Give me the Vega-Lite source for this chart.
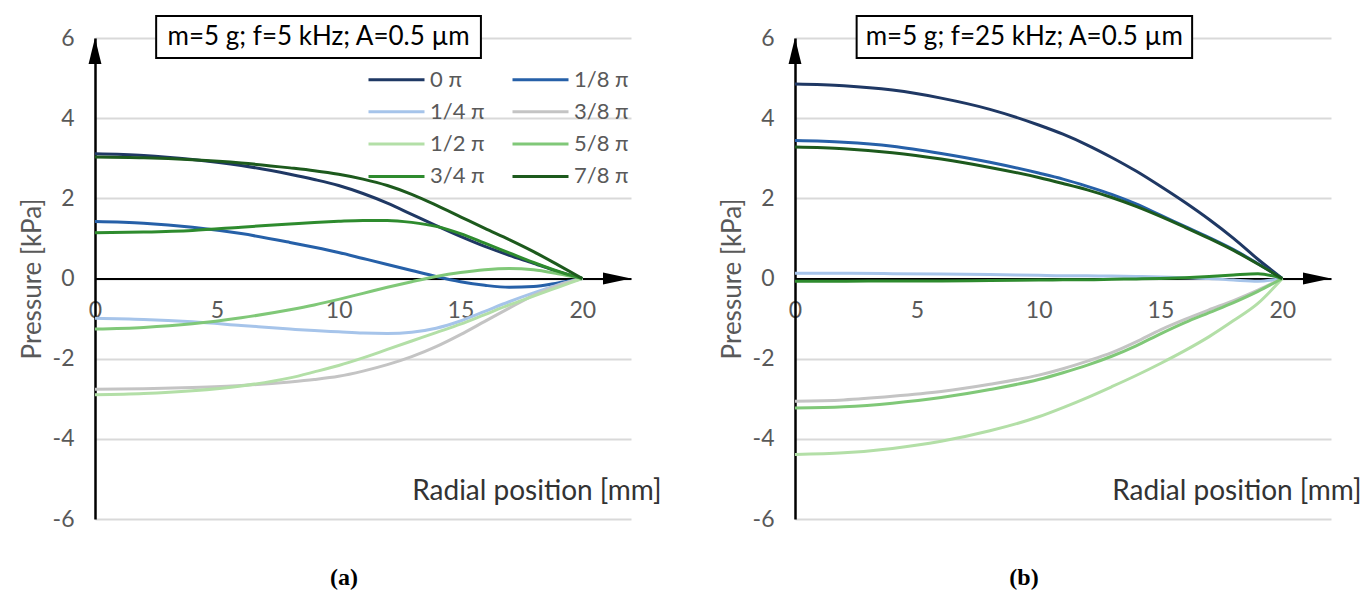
{
  "$schema": "https://vega.github.io/schema/vega-lite/v6.json",
  "background": "white",
  "padding": {"left": 19, "top": 14, "right": 0, "bottom": 0},
  "spacing": 164,
  "bounds": "flush",
  "config": {
    "font": "Lato",
    "view": {"stroke": null},
    "axisX": {"domainColor": "black", "domainWidth": 2, "ticks": false, "grid": false, "labelPadding": 21, "labelColor": "#595959", "labelFontSize": 23, "labelFont": "Lato", "titleColor": "#333333", "titleFontSize": 28, "titleFontWeight": "normal", "titleFont": "Lato", "labelFlush": false},
    "axisY": {"grid": true, "gridColor": "#d9d9d9", "gridWidth": 2, "domainColor": "black", "domainWidth": 2.5, "ticks": false, "labelPadding": 21, "labelColor": "#595959", "labelFontSize": 23, "labelFont": "Lato", "titleColor": "#595959", "titleFontSize": 26, "titleFontWeight": "normal", "titleFont": "Lato", "titlePadding": 7},
    "legend": {"orient": "none", "direction": "horizontal", "columns": 2, "symbolType": "M-2,0L2,0", "symbolSize": 784, "symbolStrokeWidth": 3, "labelFontSize": 22, "labelFont": "Lato", "labelColor": "#595959", "labelOffset": 18, "columnPadding": 21, "rowPadding": 5.3, "padding": 0}
  },
  "datasets": {
    "a": [
      {"r": 0, "0 π": 3.11, "1/8 π": 1.42, "1/4 π": -0.99, "3/8 π": -2.76, "1/2 π": -2.9, "5/8 π": -1.26, "3/4 π": 1.14, "7/8 π": 3.03},
      {"r": 2, "0 π": 3.07, "1/8 π": 1.38, "1/4 π": -1.02, "3/8 π": -2.75, "1/2 π": -2.87, "5/8 π": -1.22, "3/4 π": 1.16, "7/8 π": 3.01},
      {"r": 4, "0 π": 2.97, "1/8 π": 1.28, "1/4 π": -1.08, "3/8 π": -2.72, "1/2 π": -2.8, "5/8 π": -1.13, "3/4 π": 1.2, "7/8 π": 2.96},
      {"r": 6, "0 π": 2.82, "1/8 π": 1.12, "1/4 π": -1.17, "3/8 π": -2.67, "1/2 π": -2.68, "5/8 π": -0.98, "3/4 π": 1.28, "7/8 π": 2.88},
      {"r": 8, "0 π": 2.6, "1/8 π": 0.9, "1/4 π": -1.26, "3/8 π": -2.58, "1/2 π": -2.48, "5/8 π": -0.78, "3/4 π": 1.36, "7/8 π": 2.76},
      {"r": 9, "0 π": 2.47, "1/8 π": 0.78, "1/4 π": -1.3, "3/8 π": -2.52, "1/2 π": -2.33, "5/8 π": -0.66, "3/4 π": 1.4, "7/8 π": 2.69},
      {"r": 10, "0 π": 2.32, "1/8 π": 0.65, "1/4 π": -1.33, "3/8 π": -2.44, "1/2 π": -2.17, "5/8 π": -0.52, "3/4 π": 1.43, "7/8 π": 2.6},
      {"r": 11, "0 π": 2.12, "1/8 π": 0.5, "1/4 π": -1.36, "3/8 π": -2.31, "1/2 π": -1.98, "5/8 π": -0.37, "3/4 π": 1.45, "7/8 π": 2.48},
      {"r": 12, "0 π": 1.88, "1/8 π": 0.35, "1/4 π": -1.37, "3/8 π": -2.15, "1/2 π": -1.77, "5/8 π": -0.22, "3/4 π": 1.45, "7/8 π": 2.32},
      {"r": 13, "0 π": 1.6, "1/8 π": 0.2, "1/4 π": -1.34, "3/8 π": -1.95, "1/2 π": -1.56, "5/8 π": -0.08, "3/4 π": 1.4, "7/8 π": 2.1},
      {"r": 14, "0 π": 1.32, "1/8 π": 0.05, "1/4 π": -1.24, "3/8 π": -1.7, "1/2 π": -1.35, "5/8 π": 0.05, "3/4 π": 1.3, "7/8 π": 1.83},
      {"r": 15, "0 π": 1.05, "1/8 π": -0.08, "1/4 π": -1.06, "3/8 π": -1.4, "1/2 π": -1.14, "5/8 π": 0.15, "3/4 π": 1.12, "7/8 π": 1.54},
      {"r": 16, "0 π": 0.8, "1/8 π": -0.17, "1/4 π": -0.82, "3/8 π": -1.07, "1/2 π": -0.9, "5/8 π": 0.22, "3/4 π": 0.88, "7/8 π": 1.25},
      {"r": 17, "0 π": 0.58, "1/8 π": -0.22, "1/4 π": -0.58, "3/8 π": -0.74, "1/2 π": -0.66, "5/8 π": 0.25, "3/4 π": 0.64, "7/8 π": 0.97},
      {"r": 18, "0 π": 0.38, "1/8 π": -0.2, "1/4 π": -0.36, "3/8 π": -0.42, "1/2 π": -0.44, "5/8 π": 0.22, "3/4 π": 0.4, "7/8 π": 0.67},
      {"r": 19, "0 π": 0.17, "1/8 π": -0.11, "1/4 π": -0.16, "3/8 π": -0.17, "1/2 π": -0.22, "5/8 π": 0.12, "3/4 π": 0.18, "7/8 π": 0.34},
      {"r": 20, "0 π": 0, "1/8 π": 0, "1/4 π": 0, "3/8 π": 0, "1/2 π": 0, "5/8 π": 0, "3/4 π": 0, "7/8 π": 0}
    ],
    "b": [
      {"r": 0, "0 π": 4.85, "1/8 π": 3.44, "1/4 π": 0.13, "3/8 π": -3.06, "1/2 π": -4.39, "5/8 π": -3.23, "3/4 π": -0.07, "7/8 π": 3.28},
      {"r": 2, "0 π": 4.81, "1/8 π": 3.4, "1/4 π": 0.13, "3/8 π": -3.03, "1/2 π": -4.35, "5/8 π": -3.2, "3/4 π": -0.07, "7/8 π": 3.24},
      {"r": 4, "0 π": 4.7, "1/8 π": 3.3, "1/4 π": 0.12, "3/8 π": -2.94, "1/2 π": -4.24, "5/8 π": -3.11, "3/4 π": -0.06, "7/8 π": 3.14},
      {"r": 6, "0 π": 4.5, "1/8 π": 3.12, "1/4 π": 0.11, "3/8 π": -2.82, "1/2 π": -4.06, "5/8 π": -2.97, "3/4 π": -0.06, "7/8 π": 2.98},
      {"r": 8, "0 π": 4.22, "1/8 π": 2.9, "1/4 π": 0.1, "3/8 π": -2.64, "1/2 π": -3.8, "5/8 π": -2.77, "3/4 π": -0.05, "7/8 π": 2.77},
      {"r": 10, "0 π": 3.83, "1/8 π": 2.63, "1/4 π": 0.08, "3/8 π": -2.41, "1/2 π": -3.45, "5/8 π": -2.52, "3/4 π": -0.04, "7/8 π": 2.52},
      {"r": 11, "0 π": 3.6, "1/8 π": 2.48, "1/4 π": 0.07, "3/8 π": -2.25, "1/2 π": -3.22, "5/8 π": -2.35, "3/4 π": -0.03, "7/8 π": 2.37},
      {"r": 12, "0 π": 3.33, "1/8 π": 2.3, "1/4 π": 0.07, "3/8 π": -2.06, "1/2 π": -2.97, "5/8 π": -2.16, "3/4 π": -0.03, "7/8 π": 2.21},
      {"r": 13, "0 π": 3.02, "1/8 π": 2.1, "1/4 π": 0.06, "3/8 π": -1.85, "1/2 π": -2.7, "5/8 π": -1.94, "3/4 π": -0.02, "7/8 π": 2.02},
      {"r": 14, "0 π": 2.68, "1/8 π": 1.86, "1/4 π": 0.05, "3/8 π": -1.58, "1/2 π": -2.42, "5/8 π": -1.68, "3/4 π": -0.01, "7/8 π": 1.8},
      {"r": 15, "0 π": 2.3, "1/8 π": 1.58, "1/4 π": 0.04, "3/8 π": -1.28, "1/2 π": -2.12, "5/8 π": -1.38, "3/4 π": 0.0, "7/8 π": 1.55},
      {"r": 16, "0 π": 1.9, "1/8 π": 1.3, "1/4 π": 0.02, "3/8 π": -1.02, "1/2 π": -1.8, "5/8 π": -1.1, "3/4 π": 0.02, "7/8 π": 1.28},
      {"r": 17, "0 π": 1.47, "1/8 π": 1.02, "1/4 π": 0.0, "3/8 π": -0.78, "1/2 π": -1.45, "5/8 π": -0.85, "3/4 π": 0.05, "7/8 π": 1.0},
      {"r": 18, "0 π": 1.0, "1/8 π": 0.72, "1/4 π": -0.04, "3/8 π": -0.55, "1/2 π": -1.05, "5/8 π": -0.6, "3/4 π": 0.09, "7/8 π": 0.7},
      {"r": 19, "0 π": 0.48, "1/8 π": 0.37, "1/4 π": -0.07, "3/8 π": -0.29, "1/2 π": -0.62, "5/8 π": -0.32, "3/4 π": 0.12, "7/8 π": 0.36},
      {"r": 20, "0 π": 0, "1/8 π": 0, "1/4 π": 0, "3/8 π": 0, "1/2 π": 0, "5/8 π": 0, "3/4 π": 0, "7/8 π": 0}
    ]
  },
  "hconcat": [
    {
      "width": 536,
      "height": 481,
      "title": {"text": "(a)", "orient": "bottom", "anchor": "middle", "frame": "group", "dx": -19, "offset": 35, "font": "Liberation Serif", "fontSize": 24, "fontWeight": "bold", "color": "black"},
      "layer": [
        {
          "data": {"name": "a"},
          "transform": [{"fold": ["0 π", "1/8 π", "1/4 π", "3/8 π", "1/2 π", "5/8 π", "3/4 π", "7/8 π"], "as": ["phase", "p"]}],
          "mark": {"type": "line", "interpolate": "monotone", "strokeWidth": 3},
          "encoding": {
            "x": {"field": "r", "type": "quantitative", "scale": {"domain": [0, 22], "nice": false}, "axis": {"values": [0, 5, 10, 15, 20], "offset": -240.5, "title": "Radial position [mm]", "titleX": 566, "titleY": 213, "titleAlign": "right", "titleBaseline": "middle", "titleAnchor": null}},
            "y": {"field": "p", "type": "quantitative", "scale": {"domain": [-6, 6], "nice": false}, "axis": {"values": [-6, -4, -2, 0, 2, 4, 6], "labelExpr": "'' + datum.value", "title": "Pressure [kPa]"}},
            "color": {"field": "phase", "type": "nominal", "scale": {"domain": ["0 π", "1/8 π", "1/4 π", "3/8 π", "1/2 π", "5/8 π", "3/4 π", "7/8 π"], "range": ["#1f3864", "#2660a8", "#a6c4ea", "#c4c4c4", "#b3dfa7", "#80c878", "#2e8b2e", "#1d5a1d"]}, "legend": {"title": null, "legendX": 286, "legendY": 26}}
          }
        },
        {
          "data": {"values": [{}]},
          "mark": {"type": "rect", "fill": "white", "stroke": "black", "strokeWidth": 2},
          "encoding": {"x": {"datum": 2.51}, "x2": {"datum": 15.84}, "y": {"datum": 6.55}, "y2": {"datum": 5.5}}
        },
        {
          "data": {"values": [{}]},
          "mark": {"type": "text", "text": "m=5 g; f=5 kHz; A=0.5 µm", "fontSize": 26, "font": "Lato", "color": "black", "align": "center", "baseline": "middle"},
          "encoding": {"x": {"datum": 9.18}, "y": {"datum": 6.02}}
        },
        {
          "data": {"values": [{}]},
          "mark": {"type": "point", "shape": "M0,0L-2,-0.43L-2,0.43Z", "size": 784, "filled": true, "color": "black", "opacity": 1, "strokeWidth": 0},
          "encoding": {"x": {"datum": 22}, "y": {"datum": 0}}
        },
        {
          "data": {"values": [{}]},
          "mark": {"type": "point", "shape": "M0,0L-0.46,1.86L0.46,1.86Z", "size": 784, "filled": true, "color": "black", "opacity": 1, "strokeWidth": 0},
          "encoding": {"x": {"datum": 0}, "y": {"datum": 6}}
        }
      ]
    },
    {
      "width": 536,
      "height": 481,
      "title": {"text": "(b)", "orient": "bottom", "anchor": "middle", "frame": "group", "dx": -39, "offset": 35, "font": "Liberation Serif", "fontSize": 24, "fontWeight": "bold", "color": "black"},
      "layer": [
        {
          "data": {"name": "b"},
          "transform": [{"fold": ["0 π", "1/8 π", "1/4 π", "3/8 π", "1/2 π", "5/8 π", "3/4 π", "7/8 π"], "as": ["phase", "p"]}],
          "mark": {"type": "line", "interpolate": "monotone", "strokeWidth": 3},
          "encoding": {
            "x": {"field": "r", "type": "quantitative", "scale": {"domain": [0, 22], "nice": false}, "axis": {"values": [0, 5, 10, 15, 20], "offset": -240.5, "title": "Radial position [mm]", "titleX": 566, "titleY": 213, "titleAlign": "right", "titleBaseline": "middle", "titleAnchor": null}},
            "y": {"field": "p", "type": "quantitative", "scale": {"domain": [-6, 6], "nice": false}, "axis": {"values": [-6, -4, -2, 0, 2, 4, 6], "labelExpr": "'' + datum.value", "title": "Pressure [kPa]"}},
            "color": {"field": "phase", "type": "nominal", "scale": {"domain": ["0 π", "1/8 π", "1/4 π", "3/8 π", "1/2 π", "5/8 π", "3/4 π", "7/8 π"], "range": ["#1f3864", "#2660a8", "#a6c4ea", "#c4c4c4", "#b3dfa7", "#80c878", "#2e8b2e", "#1d5a1d"]}, "legend": {"title": null, "legendX": 286, "legendY": 26}}
          }
        },
        {
          "data": {"values": [{}]},
          "mark": {"type": "rect", "fill": "white", "stroke": "black", "strokeWidth": 2},
          "encoding": {"x": {"datum": 2.53}, "x2": {"datum": 16.3}, "y": {"datum": 6.55}, "y2": {"datum": 5.5}}
        },
        {
          "data": {"values": [{}]},
          "mark": {"type": "text", "text": "m=5 g; f=25 kHz; A=0.5 µm", "fontSize": 26, "font": "Lato", "color": "black", "align": "center", "baseline": "middle"},
          "encoding": {"x": {"datum": 9.41}, "y": {"datum": 6.02}}
        },
        {
          "data": {"values": [{}]},
          "mark": {"type": "point", "shape": "M0,0L-2,-0.43L-2,0.43Z", "size": 784, "filled": true, "color": "black", "opacity": 1, "strokeWidth": 0},
          "encoding": {"x": {"datum": 22}, "y": {"datum": 0}}
        },
        {
          "data": {"values": [{}]},
          "mark": {"type": "point", "shape": "M0,0L-0.46,1.86L0.46,1.86Z", "size": 784, "filled": true, "color": "black", "opacity": 1, "strokeWidth": 0},
          "encoding": {"x": {"datum": 0}, "y": {"datum": 6}}
        }
      ]
    }
  ]
}
